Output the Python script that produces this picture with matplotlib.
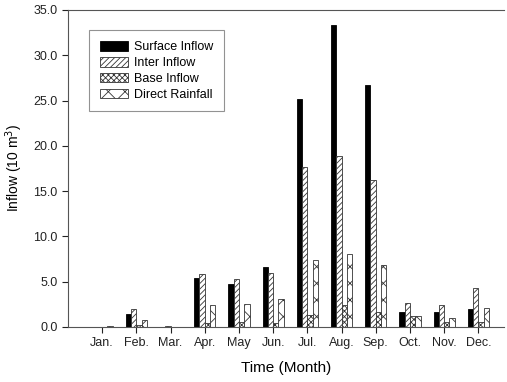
import matplotlib.pyplot as plt
import numpy as np

plt.rcParams['font.family'] = ['Liberation Sans', 'DejaVu Sans']
plt.rcParams['hatch.linewidth'] = 0.6

months = ['Jan.', 'Feb.', 'Mar.', 'Apr.', 'May', 'Jun.', 'Jul.', 'Aug.', 'Sep.', 'Oct.', 'Nov.', 'Dec.']
surface = [0.0, 1.4, 0.0, 5.4, 4.8, 6.6, 25.2, 33.3, 26.7, 1.6, 1.7, 2.0]
inter = [0.05, 2.0, 0.1, 5.8, 5.3, 6.0, 17.7, 18.9, 16.2, 2.7, 2.4, 4.3]
base = [0.0, 0.2, 0.05, 0.4, 0.6, 0.4, 1.3, 2.4, 1.6, 1.2, 0.6, 0.6]
direct = [0.1, 0.8, 0.05, 2.4, 2.5, 3.1, 7.4, 8.1, 6.8, 1.2, 1.0, 2.1]

fig = plt.figure(figsize=(5.07, 3.82), dpi=100)
ax = fig.add_axes([0.134, 0.144, 0.86, 0.83])

x = np.arange(len(months))
w = 0.155
ec = '#333333'
ax.bar(x - 1.5 * w, surface, w, color='black', edgecolor='black', linewidth=0.6, label='Surface Inflow')
ax.bar(x - 0.5 * w, inter, w, color='white', edgecolor=ec, hatch='//////', linewidth=0.6, label='Inter Inflow')
ax.bar(x + 0.5 * w, base, w, color='white', edgecolor=ec, hatch='xxxxxx', linewidth=0.6, label='Base Inflow')
ax.bar(x + 1.5 * w, direct, w, color='white', edgecolor=ec, hatch='xx', linewidth=0.6, label='Direct Rainfall')

ax.set_xlim(-1, 11.75)
ax.set_ylim(0, 35)
ax.set_xticks(x)
ax.set_xticklabels(months)
ax.set_yticks(np.arange(0, 36, 5))
ax.set_yticklabels(['%.1f' % v for v in np.arange(0, 36, 5)])
ax.tick_params(direction='out', length=4, labelsize=9, colors='#222222')
ax.spines['right'].set_visible(False)
for s in ['top', 'left', 'bottom']:
    ax.spines[s].set_color('#555555')

ax.set_xlabel('Time (Month)', fontsize=11, labelpad=8)
ax.set_ylabel('Inflow (10 m$^3$)', fontsize=10, labelpad=6)

leg = ax.legend(loc='upper left', bbox_to_anchor=(0.035, 0.955), fontsize=9, frameon=True,
                fancybox=False, edgecolor='#777777', handlelength=2.2, handleheight=0.8,
                labelspacing=0.3, borderpad=0.85, handletextpad=0.5)
leg.get_frame().set_linewidth(0.8)

plt.savefig('out.png', dpi=100)
